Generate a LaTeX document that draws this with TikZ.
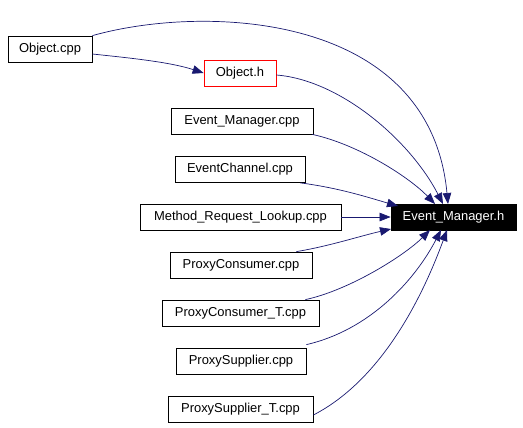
\documentclass[tikz,border=0pt]{standalone}
\usepackage{fontspec}
\setmainfont{Liberation Sans}
\usetikzlibrary{arrows.meta}
\definecolor{edgeblue}{RGB}{25,25,112}
\begin{document}
\begin{tikzpicture}[x=1bp,y=-1bp,
  box/.style={draw=black, line width=0.8bp, minimum height=26bp, inner sep=0pt, font=\fontsize{13}{15}\selectfont},
  redbox/.style={box, draw=red},
  focusbox/.style={box, fill=black, text=white},
  dep/.style={draw=edgeblue, line width=0.7bp, -{Triangle[length=11bp,width=8.5bp]}}]
\useasboundingbox (0,0) rectangle (523,427);
\node[box, minimum width=84bp] (ocpp) at (50,49) {Object.cpp};
\node[redbox, minimum width=72bp] (oh) at (240,73) {Object.h};
\node[box, minimum width=142bp] (emcpp) at (242,121) {Event\_Manager.cpp};
\node[box, minimum width=130bp] (ec) at (240,169.5) {EventChannel.cpp};
\node[box, minimum width=201bp] (mrl) at (240.5,217) {Method\_Request\_Lookup.cpp};
\node[focusbox, minimum width=125bp] (emh) at (453.5,217) {Event\_Manager.h};
\node[box, minimum width=142bp] (pc) at (241,265) {ProxyConsumer.cpp};
\node[box, minimum width=157bp] (pct) at (240.5,313) {ProxyConsumer\_T.cpp};
\node[box, minimum width=130bp] (ps) at (241,361) {ProxySupplier.cpp};
\node[box, minimum width=145bp] (pst) at (240.5,409) {ProxySupplier\_T.cpp};
\coordinate (t1) at (448,204);
\coordinate (t2) at (443,204);
\coordinate (t3) at (435,204);
\coordinate (t4) at (398,206);
\coordinate (b1) at (391,229);
\coordinate (b2) at (430,230);
\coordinate (b3) at (441,230);
\coordinate (b4) at (447,230);
\draw[dep] (ocpp.north east) .. controls (205,4) and (430,12) .. (t1);
\draw[dep] ([yshift=-5bp]ocpp.east) .. controls (130,58) and (170,62) .. (oh.west);
\draw[dep] ([yshift=-2bp]oh.east) .. controls (340,80) and (410,140) .. (t2);
\draw[dep] ([xshift=-1bp]emcpp.south east) .. controls (360,145) and (410,178) .. (t3);
\draw[dep] ([xshift=-5bp]ec.south east) .. controls (340,188) and (370,198) .. (t4);
\draw[dep] (mrl.east) -- (emh.west);
\draw[dep] ([xshift=-16bp]pc.north east) .. controls (330,246) and (360,236) .. (b1);
\draw[dep] ([xshift=-14bp]pct.north east) .. controls (350,290) and (405,255) .. (b2);
\draw[dep] ([yshift=3bp]ps.north east) .. controls (370,330) and (415,280) .. (b3);
\draw[dep] ([yshift=-6bp]pst.east) .. controls (385,378) and (425,290) .. (b4);
\end{tikzpicture}
\end{document}
